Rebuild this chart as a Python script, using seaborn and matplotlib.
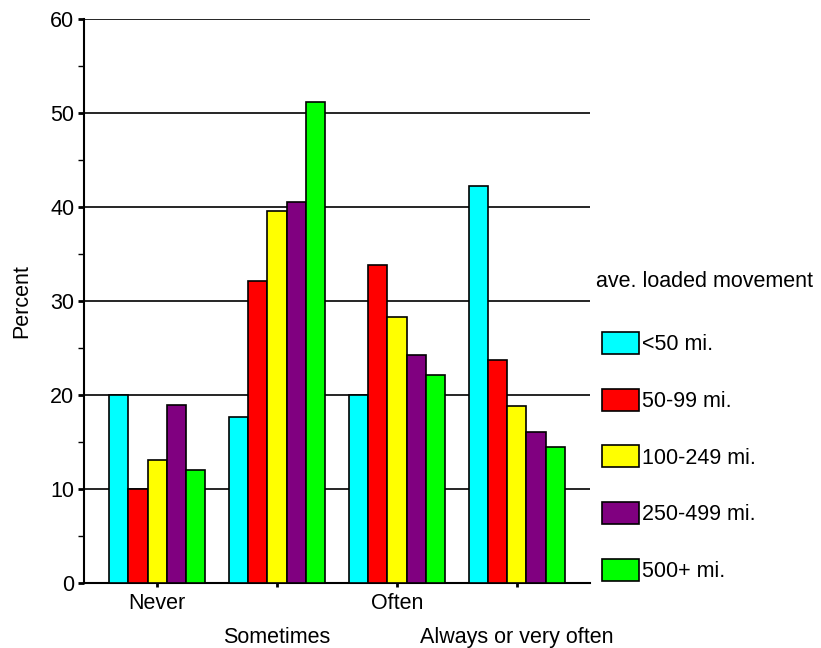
"""Grouped bar chart: frequency of response by average loaded movement distance."""

import pandas as pd
import matplotlib
matplotlib.use('Agg')
import matplotlib.pyplot as plt
from matplotlib.ticker import MultipleLocator
import seaborn as sns

# data
responses = ['Never', 'Sometimes', 'Often', 'Always or very often']
distances = ['<50 mi.', '50-99 mi.', '100-249 mi.', '250-499 mi.', '500+ mi.']
lt50 = [20.0, 17.7, 20.0, 42.2]
d50_99 = [10.0, 32.1, 33.8, 23.7]
d100_249 = [13.1, 39.6, 28.3, 18.8]
d250_499 = [18.9, 40.5, 24.3, 16.1]
d500 = [12.0, 51.2, 22.1, 14.5]
colors = ['#00FFFF', '#FF0000', '#FFFF00', '#800080', '#00FF00']

series = [lt50, d50_99, d100_249, d250_499, d500]
rows = []
for dist, vals in zip(distances, series):
    for resp, v in zip(responses, vals):
        rows.append({'response': resp, 'distance': dist, 'percent': v})
df = pd.DataFrame(rows)

FS = 15.5

sns.set_style('white')
plt.rcParams['font.family'] = ['Liberation Sans', 'DejaVu Sans']
plt.rcParams['font.size'] = FS
plt.rcParams['text.color'] = 'black'
plt.rcParams['xtick.color'] = 'black'
plt.rcParams['ytick.color'] = 'black'
plt.rcParams['axes.labelcolor'] = 'black'

fig = plt.figure(figsize=(8.21, 6.48), dpi=100)
ax = fig.add_axes([0.1023, 0.1003, 0.6163, 0.8704])

sns.barplot(data=df, x='response', y='percent', hue='distance',
            order=responses, hue_order=distances, palette=colors,
            saturation=1, edgecolor='black', linewidth=1.2, width=0.8,
            ax=ax, zorder=3)

ax.set_xlim(-0.61, 3.61)
ax.set_ylim(0, 60)
ax.yaxis.set_major_locator(MultipleLocator(10))
ax.yaxis.set_minor_locator(MultipleLocator(5))
ax.grid(axis='y', color='black', linewidth=1.2, zorder=0)
ax.set_axisbelow(True)

for side in ['top', 'right']:
    ax.spines[side].set_visible(False)
for side in ['left', 'bottom']:
    ax.spines[side].set_color('black')
    ax.spines[side].set_linewidth(1.5)

ax.tick_params(axis='y', which='major', direction='out', length=4, width=2,
               labelsize=FS, pad=3, left=True)
ax.tick_params(axis='y', which='minor', direction='out', length=4, width=1,
               left=True)
ax.tick_params(axis='x', direction='out', length=3, width=2,
               labelsize=FS, pad=4, bottom=True)

ax.set_xlabel('')
ax.set_ylabel('Percent', fontsize=FS, labelpad=13)

# staggered category labels
for i, tick in enumerate(ax.xaxis.get_major_ticks()):
    if i % 2 == 1:
        tick.set_pad(28.5)

handles, labels = ax.get_legend_handles_labels()
if ax.get_legend():
    ax.get_legend().remove()
fig.text(0.7265, 1 - 282 / 648, 'ave. loaded movement', fontsize=FS,
         ha='left', va='center')
fig.legend(handles, labels, loc='upper left', bbox_to_anchor=(0.7335, 1 - 332 / 648),
           frameon=False, fontsize=FS, handlelength=1.72, handleheight=1.2,
           handletextpad=0.15, labelspacing=1.55, borderpad=0,
           borderaxespad=0)

fig.savefig('out.png', dpi=100)
plt.close(fig)
